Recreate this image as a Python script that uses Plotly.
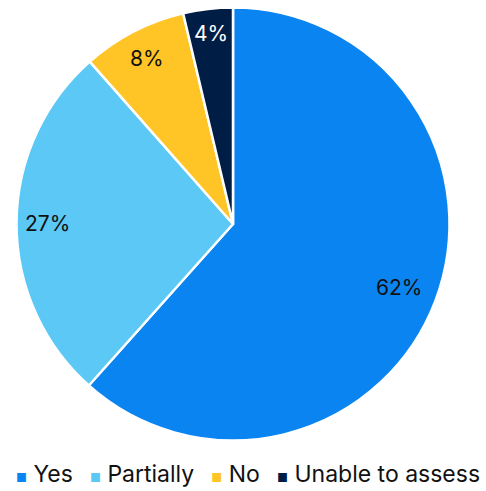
import math
import plotly.graph_objects as go

labels = ["Yes", "Partially", "No", "Unable to assess"]
values = [61.6, 26.9, 7.8, 3.7]
colors = ["#0A84F0", "#5BC8F5", "#FFC425", "#001E45"]
text_colors = ["#111111", "#111111", "#111111", "#FFFFFF"]
label_r = [0.82, 0.855, 0.86, 0.885]  # radial position of percent labels (fraction of radius)

W, H = 486, 491
CX, CY = 233, 224   # pie centre in px
R = 216.5           # pie radius in px
FONT = "Inter, Roboto, sans-serif"

fig = go.Figure(go.Pie(
    labels=labels,
    values=values,
    sort=False,
    direction="clockwise",
    rotation=0,
    marker=dict(colors=colors, line=dict(color="white", width=2.5)),
    textinfo="none",
    hoverinfo="label+percent",
    showlegend=False,
    domain=dict(x=[(CX - R) / W, (CX + R) / W],
                y=[1 - (CY + R) / H, 1 - (CY - R) / H]),
))

# percent labels placed along each slice's mid-angle
total = sum(values)
cum = 0.0
for v, tc, rf in zip(values, text_colors, label_r):
    mid = (cum + v / 2) / total * 2 * math.pi
    cum += v
    px = CX + rf * R * math.sin(mid)
    py = CY - rf * R * math.cos(mid)
    fig.add_annotation(
        x=px / W, y=1 - py / H, xref="paper", yref="paper",
        text=f"{round(v / total * 100)}%", showarrow=False,
        xanchor="center", yanchor="middle",
        font=dict(family=FONT, size=21, color=tc),
    )

# legend row
parts = []
for lab, col in zip(labels, colors):
    parts.append(f"<span style='color:{col};font-size:12px'>■</span>\u00a0{lab}")
legend_text = "\u00a0\u00a0\u2009".join(parts)
fig.add_annotation(
    x=247.5 / W, y=1 - 474 / H, xref="paper", yref="paper",
    text=legend_text, showarrow=False, xanchor="center", yanchor="middle",
    font=dict(family=FONT, size=23, color="#111111"),
)

fig.update_layout(
    width=W, height=H,
    margin=dict(l=0, r=0, t=0, b=0),
    paper_bgcolor="white",
    plot_bgcolor="white",
    font=dict(family=FONT, color="#111111"),
    showlegend=False,
)
fig.write_html("out.html", config={"displayModeBar": False},
               post_script="document.body.style.margin='0';")
